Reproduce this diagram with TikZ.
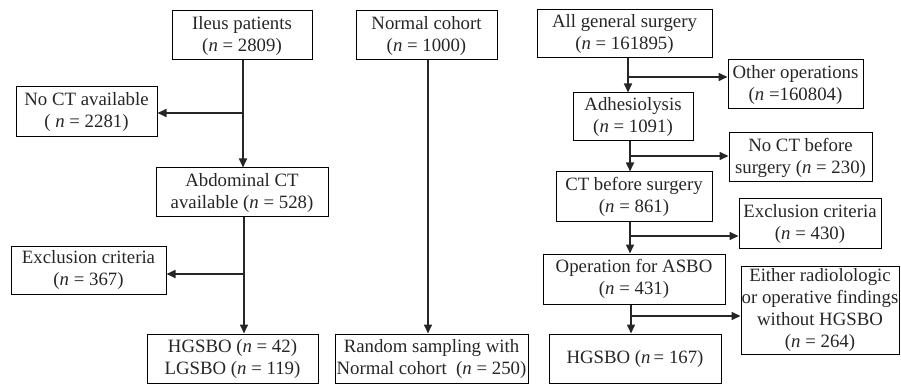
\documentclass[tikz,border=0pt]{standalone}
\usepackage{fontspec}
\setmainfont{Liberation Serif}
\usetikzlibrary{arrows.meta}
\begin{document}
\begin{tikzpicture}[x=1pt,y=-1pt,
  box/.style={draw=black, line width=1pt, inner sep=0pt, align=center,
    font=\fontsize{18.8}{22}\selectfont, text=black!85},
  arr/.style={line width=1.6pt, draw=black!85, -{Triangle[length=9pt,width=8pt]}},
  ln/.style={line width=1.6pt, draw=black!85}]
\useasboundingbox (0,0) rectangle (901,387);
\newcommand{\nn}{\textit{n}}
% left column
\node[box, minimum width=140pt, minimum height=49pt] (ileus) at (242,35.5) {Ileus patients\\(\nn{} = 2809)};
\node[box, minimum width=141pt, minimum height=50pt] (nocta) at (86.5,112) {No CT available\\( \nn{} = 2281)};
\node[box, minimum width=172pt, minimum height=49pt] (abdct) at (242,192.5) {Abdominal CT\\available (\nn{} = 528)};
\node[box, minimum width=155pt, minimum height=48pt] (excla) at (88.5,270) {Exclusion criteria\\(\nn{} = 367)};
\node[box, minimum width=171pt, minimum height=49pt] (hgsboa) at (232.5,358.5) {HGSBO (\nn{} = 42)\\LGSBO (\nn{} = 119)};
% middle column
\node[box, minimum width=141pt, minimum height=49pt] (normal) at (426.5,35.5) {Normal cohort\\(\nn{} = 1000)};
\node[box, minimum width=193pt, minimum height=49pt] (random) at (431.5,358.5) {Random sampling with\\Normal cohort\ \ (\nn{} = 250)};
% right column
\node[box, minimum width=175pt, minimum height=48pt] (allgen) at (624.5,34) {All general surgery\\(\nn{} = 161895)};
\node[box, minimum width=135pt, minimum height=49pt] (other) at (795.5,84.5) {Other operations\\(\nn{} =160804)};
\node[box, minimum width=120pt, minimum height=48pt] (adhes) at (633,117) {Adhesiolysis\\(\nn{} = 1091)};
\node[box, minimum width=143pt, minimum height=49pt] (noctb) at (800.5,157.5) {No CT before\\surgery (\nn{} = 230)};
\node[box, minimum width=156pt, minimum height=50pt] (ctb) at (634,197) {CT before surgery\\(\nn{} = 861)};
\node[box, minimum width=142pt, minimum height=49pt] (exclb) at (810,223.5) {Exclusion criteria\\(\nn{} = 430)};
\node[box, minimum width=182pt, minimum height=50pt] (opasbo) at (634,279) {Operation for ASBO\\(\nn{} = 431)};
\node[box, minimum width=158pt, minimum height=88pt] (either) at (820,310) {Either radiolologic\\or operative findings\\without HGSBO\\(\nn{} = 264)};
\node[box, minimum width=172pt, minimum height=49pt] (hgsbob) at (635,358.5) {HGSBO (\nn{}\,= 167)};
% left connectors
\coordinate (s1) at (243,0);
\coordinate (b1) at (243,113);
\draw[arr] (ileus.south -| s1) -- (abdct.north -| s1);
\draw[arr] (b1) -- (b1 -| nocta.east);
\coordinate (s2) at (244,0);
\coordinate (b2) at (244,274);
\draw[arr] (abdct.south -| s2) -- (hgsboa.north -| s2);
\draw[arr] (b2) -- (b2 -| excla.east);
% middle connector
\coordinate (s3) at (428,0);
\draw[arr] (normal.south -| s3) -- (random.north -| s3);
% right connectors
\coordinate (s4) at (628,0);
\coordinate (b4) at (628,77);
\draw[arr] (allgen.south -| s4) -- (adhes.north -| s4);
\draw[arr] (b4) -- (b4 -| other.west);
\coordinate (s5) at (630,0);
\coordinate (b5) at (630,156);
\draw[arr] (adhes.south -| s5) -- (ctb.north -| s5);
\draw[arr] (b5) -- (b5 -| noctb.west);
\coordinate (b6) at (630,236);
\draw[arr] (ctb.south -| s5) -- (opasbo.north -| s5);
\draw[arr] (b6) -- (b6 -| exclb.west);
\coordinate (s7) at (631,0);
\coordinate (b7) at (631,316);
\draw[arr] (opasbo.south -| s7) -- (hgsbob.north -| s7);
\draw[arr] (b7) -- (b7 -| either.west);
\end{tikzpicture}
\end{document}
